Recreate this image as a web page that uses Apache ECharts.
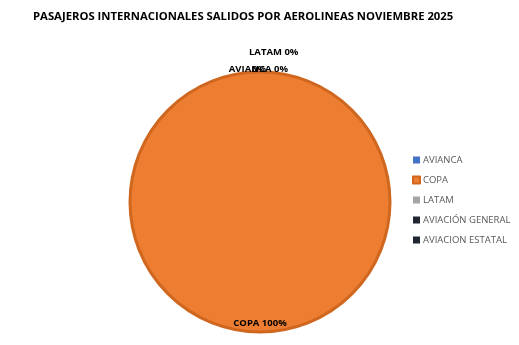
<!DOCTYPE html>
<html><head><meta charset="utf-8">
<script src="https://cdn.jsdelivr.net/npm/echarts@6/dist/echarts.min.js"></script>
<style>html,body{margin:0;padding:0;background:#fff}#c{width:519px;height:345px}</style>
</head><body><div id="c"></div>
<script>
const title = 'PASAJEROS INTERNACIONALES SALIDOS POR AEROLINEAS NOVIEMBRE 2025';
const categories = ['AVIANCA', 'COPA', 'LATAM', 'AVIACIÓN GENERAL', 'AVIACION ESTATAL'];
const values = [0, 100, 0, 0, 0];
const colors = ['#4472C4', '#ED7D31', '#A5A5A5', '#1F2630', '#1F2630'];

const labelCfg = [
  {show: true, position: 'outside', formatter: '{b} {d}%', offset: [63, 12]},
  {show: true, position: 'inside', formatter: '{b} {d}%', offset: [0, 53]},
  {show: true, position: 'outside', formatter: '{b} {d}%', offset: [-46, -5]},
  {show: true, position: 'outside', formatter: '{d}%', offset: [-43, 12]},
  {show: false}
];

const chart = echarts.init(document.getElementById('c'), null, {renderer: 'canvas'});
chart.setOption({
  animation: false,
  title: {text: title, left: 28, top: 6, textStyle: {fontFamily: 'Open Sans', fontSize: 11.3, fontWeight: 'bold', color: '#000'}},
  legend: {
    orient: 'vertical', left: 407, top: 150, icon: 'rect', itemWidth: 7, itemHeight: 7, itemGap: 10,
    textStyle: {fontFamily: 'Open Sans', fontSize: 9.5, color: '#595959', padding: [0, 0, 0, -2]},
    data: categories
  },
  series: [{
    type: 'pie', center: [260, 202], radius: 130, startAngle: 90, clockwise: true,
    avoidLabelOverlap: false, stillShowZeroSum: true,
    labelLine: {show: false},
    labelLayout: {hideOverlap: false},
    label: {fontFamily: 'Open Sans', fontSize: 9.5, fontWeight: 'bold', color: '#000'},
    data: categories.map((n, i) => ({
      name: n, value: values[i],
      itemStyle: {color: colors[i], borderColor: values[i] ? '#D0671F' : 'transparent', borderWidth: values[i] ? 3 : 0},
      label: labelCfg[i]
    }))
  }]
});
</script></body></html>
